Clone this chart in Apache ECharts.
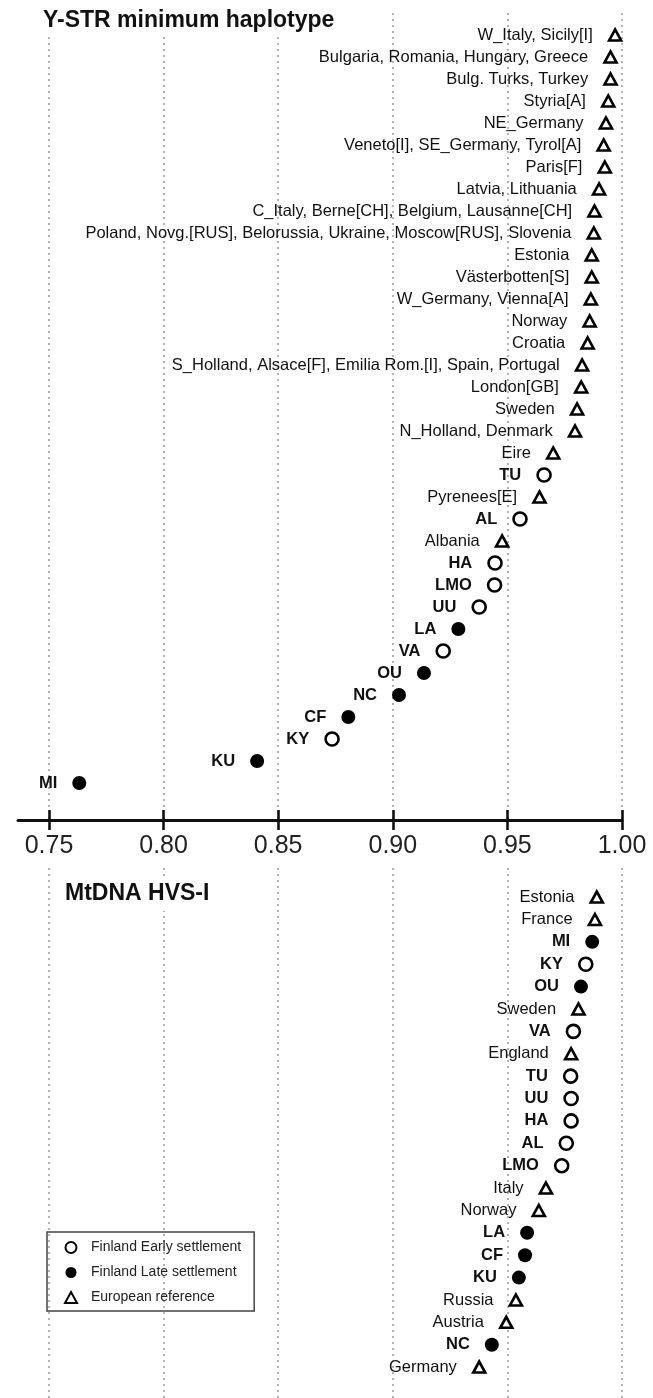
<!DOCTYPE html>
<html>
<head>
<meta charset="utf-8">
<script src="https://cdn.jsdelivr.net/npm/echarts@6/dist/echarts.min.js"></script>
<style>
html,body{margin:0;padding:0;background:#fff;}
#chart{width:653px;height:1398px;}
</style>
</head>
<body>
<div id="chart"></div>
<script>
// ---------- DATA ----------
const xTicks = [0.75, 0.80, 0.85, 0.90, 0.95, 1.00];

const topTitle = 'Y-STR minimum haplotype';
const topNames = [
  'W_Italy, Sicily[I]', 'Bulgaria, Romania, Hungary, Greece', 'Bulg. Turks, Turkey', 'Styria[A]',
  'NE_Germany', 'Veneto[I], SE_Germany, Tyrol[A]', 'Paris[F]', 'Latvia, Lithuania',
  'C_Italy, Berne[CH], Belgium, Lausanne[CH]', 'Poland, Novg.[RUS], Belorussia, Ukraine, Moscow[RUS], Slovenia',
  'Estonia', 'Västerbotten[S]', 'W_Germany, Vienna[A]', 'Norway', 'Croatia',
  'S_Holland, Alsace[F], Emilia Rom.[I], Spain, Portugal', 'London[GB]', 'Sweden', 'N_Holland, Denmark',
  'Eire', 'TU', 'Pyrenees[E]', 'AL', 'Albania', 'HA', 'LMO', 'UU', 'LA', 'VA', 'OU', 'NC', 'CF', 'KY', 'KU', 'MI'
];
const topValues = [
  0.997, 0.995, 0.995, 0.994, 0.993, 0.992, 0.9925, 0.990, 0.988, 0.9877,
  0.9868, 0.9868, 0.9864, 0.9859, 0.985, 0.9826, 0.9822, 0.9804, 0.9795,
  0.970, 0.966, 0.964, 0.9555, 0.9477, 0.9446, 0.9444, 0.9377, 0.9286, 0.922,
  0.9136, 0.9027, 0.8806, 0.8735, 0.8408, 0.7632
];
// E = Finland Early settlement, L = Finland Late settlement, R = European reference
const topGroups = [
  'R','R','R','R','R','R','R','R','R','R',
  'R','R','R','R','R','R','R','R','R',
  'R','E','R','E','R','E','E','E','L','E',
  'L','L','L','E','L','L'
];

const bottomTitle = 'MtDNA HVS-I';
const bottomNames = [
  'Estonia', 'France', 'MI', 'KY', 'OU', 'Sweden', 'VA', 'England', 'TU', 'UU', 'HA',
  'AL', 'LMO', 'Italy', 'Norway', 'LA', 'CF', 'KU', 'Russia', 'Austria', 'NC', 'Germany'
];
const bottomValues = [
  0.989, 0.9882, 0.987, 0.9842, 0.9821, 0.981, 0.9788, 0.9778, 0.9776, 0.9778, 0.9778,
  0.9757, 0.9737, 0.9668, 0.9637, 0.9586, 0.9577, 0.955, 0.9537, 0.9495, 0.9432, 0.9377
];
const bottomGroups = [
  'R','R','L','E','L','R','E','R','E','E','E',
  'E','E','R','R','L','L','L','R','R','L','R'
];

const groupNames = {E: 'Finland Early settlement', L: 'Finland Late settlement', R: 'European reference'};

// ---------- STYLE ----------
const FONT = "'Liberation Sans', Arial, Helvetica, sans-serif";
const groupStyle = {
  E: {symbol: 'circle', symbolSize: 13, itemStyle: {color: '#fff', borderColor: '#000', borderWidth: 2.6, opacity: 1}, bold: true},
  L: {symbol: 'circle', symbolSize: 14, itemStyle: {color: '#000', borderColor: '#000', borderWidth: 0, opacity: 1}, bold: true},
  R: {symbol: 'triangle', symbolSize: [12, 11], itemStyle: {color: '#fff', borderColor: '#000', borderWidth: 2.6, opacity: 1}, bold: false}
};

function buildSeries(names, values, groups, xi, yi) {
  const out = [];
  ['E', 'L', 'R'].forEach(g => {
    const data = [];
    names.forEach((n, i) => {
      if (groups[i] === g) data.push({name: n, value: [values[i], i]});
    });
    const st = groupStyle[g];
    out.push({
      type: 'scatter',
      name: groupNames[g],
      xAxisIndex: xi,
      yAxisIndex: yi,
      symbol: st.symbol,
      symbolSize: st.symbolSize,
      itemStyle: st.itemStyle,
      emphasis: {disabled: true},
      label: {
        show: true,
        position: 'left',
        distance: 15,
        formatter: '{b}',
        fontFamily: FONT,
        fontSize: 16.5,
        fontWeight: st.bold ? 'bold' : 'normal',
        color: '#111',
        opacity: 1
      },
      data: data,
      z: 5
    });
  });
  return out;
}

const gridLine = {show: true, lineStyle: {color: '#9a9a9a', width: 1.5, type: [2, 4]}};

const option = {
  backgroundColor: '#fff',
  animation: false,
  title: [
    {text: topTitle, left: 40, top: 7, padding: [2, 3, 4, 3], backgroundColor: '#fff',
     textStyle: {fontFamily: FONT, fontSize: 23, fontWeight: 'bold', color: '#111'}},
    {text: bottomTitle, left: 62, top: 880, padding: [2, 3, 6, 3], backgroundColor: '#fff',
     textStyle: {fontFamily: FONT, fontSize: 23, fontWeight: 'bold', color: '#111'}}
  ],
  legend: {
    orient: 'vertical',
    left: 47,
    top: 1232,
    padding: [8, 13, 6, 17],
    borderColor: '#444',
    borderWidth: 1.5,
    itemGap: 10,
    itemWidth: 12,
    itemHeight: 11,
    symbolKeepAspect: true,
    selectedMode: false,
    textStyle: {fontFamily: FONT, fontSize: 14, lineHeight: 15, color: '#222', padding: [0, 0, 0, 9]},
    data: [groupNames.E, groupNames.L, groupNames.R]
  },
  grid: [
    {left: 49, right: 31, top: 13, height: 807},   // top panel
    {left: 18, right: 31, top: 13, height: 807},   // axis line
    {left: 49, right: 31, top: 868, height: 530}   // bottom panel
  ],
  xAxis: [
    {gridIndex: 0, type: 'value', min: xTicks[0], max: xTicks[xTicks.length - 1], interval: 0.05, position: 'bottom',
     axisLine: {show: false, onZero: false},
     axisTick: {show: true, inside: false, length: 10, lineStyle: {color: '#111', width: 2.6}},
     axisLabel: {show: true, margin: 14, fontFamily: FONT, fontSize: 25, color: '#222',
                 formatter: v => v.toFixed(2)},
     splitLine: gridLine},
    {gridIndex: 0, type: 'value', min: xTicks[0], max: xTicks[xTicks.length - 1], interval: 0.05, position: 'bottom',
     axisLine: {show: false, onZero: false},
     axisTick: {show: true, inside: true, length: 10, lineStyle: {color: '#111', width: 2.6}},
     axisLabel: {show: false}, splitLine: {show: false}},
    {gridIndex: 1, type: 'value', min: 0.7365, max: 1.0, position: 'bottom',
     axisLine: {show: true, onZero: false, lineStyle: {color: '#111', width: 3}},
     axisTick: {show: false}, axisLabel: {show: false}, splitLine: {show: false}},
    {gridIndex: 2, type: 'value', min: xTicks[0], max: xTicks[xTicks.length - 1], interval: 0.05, position: 'bottom',
     axisLine: {show: false, onZero: false}, axisTick: {show: false}, axisLabel: {show: false},
     splitLine: gridLine}
  ],
  yAxis: [
    {gridIndex: 0, type: 'value', inverse: true, min: -1, max: 35.68, show: false, splitLine: {show: false}},
    {gridIndex: 1, type: 'value', min: 0, max: 1, show: false, splitLine: {show: false}},
    {gridIndex: 2, type: 'value', inverse: true, min: -1.3, max: 22.38, show: false, splitLine: {show: false}}
  ],
  series: [].concat(
    buildSeries(topNames, topValues, topGroups, 0, 0),
    buildSeries(bottomNames, bottomValues, bottomGroups, 3, 2)
  )
};

const chart = echarts.init(document.getElementById('chart'), null, {renderer: 'canvas'});
chart.setOption(option);
</script>
</body>
</html>
